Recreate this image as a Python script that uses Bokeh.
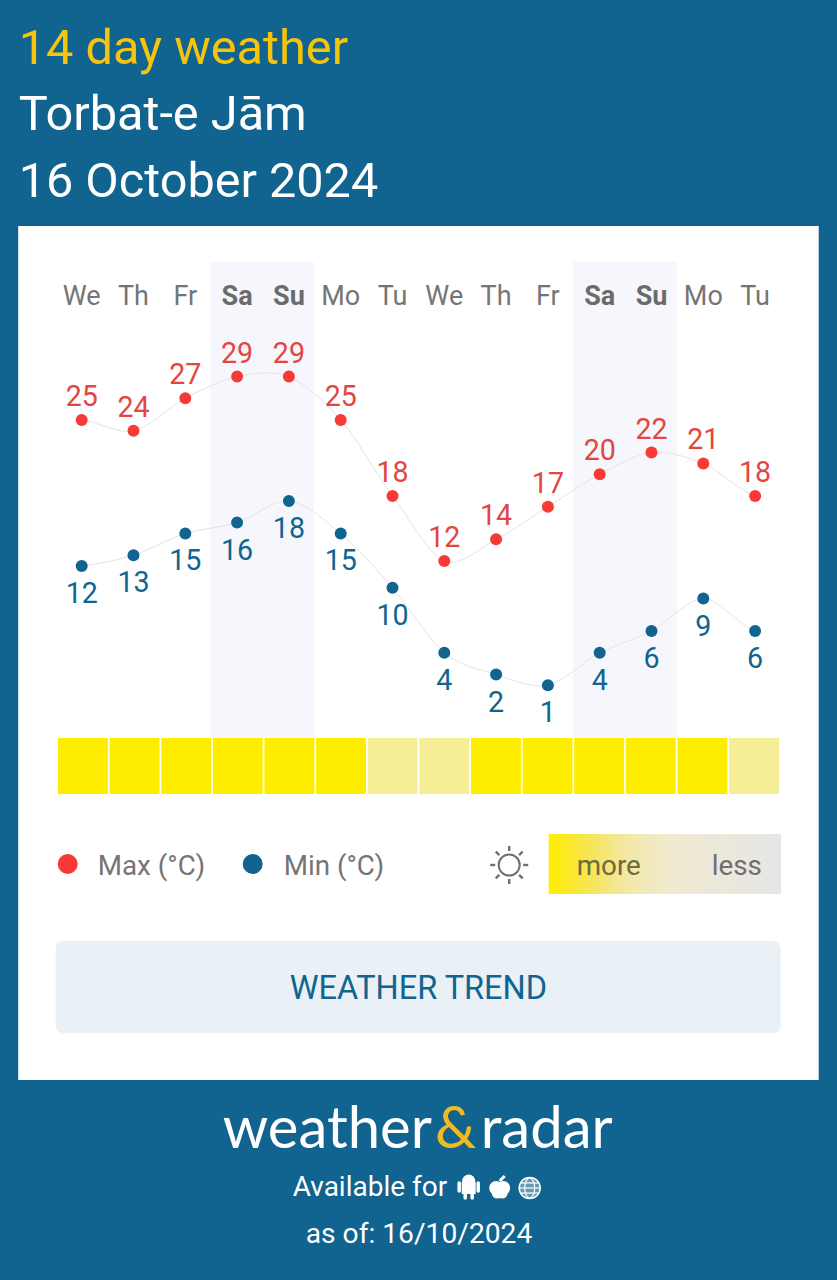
from math import cos, sin, pi
from bokeh.core.properties import value
from bokeh.embed import file_html
from bokeh.models import Range1d
from bokeh.plotting import figure
from bokeh.resources import INLINE

days = ["We", "Th", "Fr", "Sa", "Su", "Mo", "Tu", "We", "Th", "Fr", "Sa", "Su", "Mo", "Tu"]
max_temp = [25, 24, 27, 29, 29, 25, 18, 12, 14, 17, 20, 22, 21, 18]
min_temp = [12, 13, 15, 16, 18, 15, 10, 4, 2, 1, 4, 6, 9, 6]
sunny = [1, 1, 1, 1, 1, 1, 0, 0, 1, 1, 1, 1, 1, 0]
weekend_groups = [(3, 4), (10, 11)]

BLUE = "#10648f"
RED = "#f73a36"
RED_TEXT = "#e5453f"
GREY = "#757575"
YELLOW = "#ffed00"
PALE = "#f5ee96"
FONT = value("Roboto")

# bokeh's page template has no body margin, the frame covers the whole picture
W, H = 837, 1280
DAY_PX = 51.8
X0_PX = 82.0
DEG_PX = 10.85
SHIFT_X = 0.8  # the svg lands a bit right/low of the nominal pixel
SHIFT_Y = 0.5


def day_px(i):
    return X0_PX + DAY_PX * i


p = figure(width=W, height=H, output_backend="svg", toolbar_location=None,
           x_range=Range1d((SHIFT_X - X0_PX) / DAY_PX, (W + SHIFT_X - X0_PX) / DAY_PX),
           y_range=Range1d(25 + (420 - H - SHIFT_Y) / DEG_PX, 25 + (420 - SHIFT_Y) / DEG_PX),
           x_axis_location=None, y_axis_location=None, min_border=0,
           background_fill_color=BLUE, border_fill_color=BLUE, outline_line_color=None)
p.grid.visible = False
p.extra_y_ranges["min"] = Range1d(12 + (566 - H - SHIFT_Y) / DEG_PX, 12 + (566 - SHIFT_Y) / DEG_PX)
# layout pieces are placed in the picture's own pixels
p.extra_x_ranges["px"] = Range1d(SHIFT_X, W + SHIFT_X)
p.extra_y_ranges["py"] = Range1d(H + SHIFT_Y, SHIFT_Y)
PX = dict(x_range_name="px", y_range_name="py")


def label(x, base, txt, size, color, align="left", style="normal", font=FONT):
    # base is where the text baseline should sit; the svg text centres on y
    p.text([x], [base - 0.37 * size], text=[txt], text_font=font, text_font_size=f"{size}px", text_color=color,
           text_align=align, text_baseline="middle", text_font_style=style, **PX)


def smooth(values, y_range_name="default"):
    # cardinal spline through the points, same look as the original curve
    idx = list(range(len(values)))
    tan = [(values[min(i + 1, 13)] - values[max(i - 1, 0)]) / 2 for i in idx]
    p.bezier(x0=idx[:-1], y0=values[:-1], x1=idx[1:], y1=values[1:],
             cx0=[i + 0.3 for i in idx[:-1]], cy0=[v + t * 0.3 for v, t in zip(values[:-1], tan[:-1])],
             cx1=[i - 0.3 for i in idx[1:]], cy1=[v - t * 0.3 for v, t in zip(values[1:], tan[1:])],
             line_color="#e4e4e4", line_width=1, y_range_name=y_range_name)


# header
label(19, 66, "14 day weather", 48.7, "#f6c40c")
label(19, 132, "Torbat-e Jām", 48.7, "#ffffff")
label(19, 198, "16 October 2024", 48.6, "#ffffff")

# card
p.quad(left=[18.5], right=[819], top=[226], bottom=[1080], fill_color="#ffffff", line_color=None, **PX)

# weekend bands
for a, b in weekend_groups:
    p.quad(left=[day_px(a) - 26.9], right=[day_px(b) + 25.2], top=[262], bottom=[738],
           fill_color="#f5f7fc", line_color=None, **PX)

# day names
for i, d in enumerate(days):
    weekend = any(i in g for g in weekend_groups)
    label(day_px(i), 306, d, 27, "#6b6b6b" if weekend else GREY, "center", "bold" if weekend else "normal")

# curves, dots, values
xs = list(range(len(days)))
smooth(max_temp)
smooth(min_temp, "min")
p.scatter(xs, max_temp, size=12, color=RED, line_color=None)
p.scatter(xs, min_temp, size=12, color=BLUE, line_color=None, y_range_name="min")
p.text(xs, max_temp, text=[str(v) for v in max_temp], text_font=FONT, text_font_size="28.6px",
       text_color=RED_TEXT, text_align="center", text_baseline="middle", y_offset=-24.5)
p.text(xs, min_temp, text=[str(v) for v in min_temp], text_font=FONT, text_font_size="28.6px",
       text_color=BLUE, text_align="center", text_baseline="middle", y_offset=26.5, y_range_name="min")

# sunshine strip
cell = (780.2 - 57.5) / len(sunny)
p.quad(left=[57.5 + cell * i + 0.8 for i in xs], right=[57.5 + cell * (i + 1) - 0.9 for i in xs],
       top=[738] * 14, bottom=[794] * 14, fill_color=[YELLOW if s else PALE for s in sunny],
       line_color=None, **PX)

# legend
p.scatter([68], [864], size=20, color=RED, line_color=None, **PX)
label(98, 876, "Max (°C)", 27.8, GREY)
p.scatter([253], [864], size=20, color=BLUE, line_color=None, **PX)
label(284, 876, "Min (°C)", 27.8, GREY)

# sun icon
p.scatter([509.5], [865], size=21, fill_color=None, line_color="#6f6f6f", line_width=2, **PX)
angles = [k * pi / 4 for k in range(8)]
p.segment(x0=[509.5 + 14 * cos(a) for a in angles], y0=[865 + 14 * sin(a) for a in angles],
          x1=[509.5 + 19 * cos(a) for a in angles], y1=[865 + 19 * sin(a) for a in angles],
          line_color="#6f6f6f", line_width=2.4, **PX)

# more/less gradient
stops = [(0.0, (255, 237, 0)), (0.1, (250, 232, 50)), (0.2, (245, 228, 100)), (0.33, (243, 232, 165)),
         (0.5, (240, 234, 205)), (0.72, (236, 232, 218)), (1.0, (230, 230, 230))]


def grad(t):
    for (t0, c0), (t1, c1) in zip(stops, stops[1:]):
        if t <= t1:
            f = (t - t0) / (t1 - t0)
            return "#%02x%02x%02x" % tuple(round(a + (b - a) * f) for a, b in zip(c0, c1))
    return "#e6e6e6"


n = 116
p.quad(left=[549 + 2 * k for k in range(n)], right=[549 + 2 * k + 2.4 for k in range(n)],
       top=[834] * n, bottom=[894] * n, fill_color=[grad(k / (n - 1)) for k in range(n)],
       line_color=None, **PX)
label(577, 876, "more", 27.8, "#6e6a3a")
label(712, 876, "less", 27.8, "#6f6f6f")

# button
p.quad(left=[56], right=[781], top=[941], bottom=[1033], fill_color="#e9f0f6", line_color=None,
       border_radius=8, **PX)
label(419, 1000.5, "WEATHER TREND", 32.5, BLUE, "center")

# logo
label(223, 1147, "weather", 58, "#ffffff", font=value("Lato"))
label(456, 1147, "&", 58, "#efbb20", "center", font=value("Lato"))
label(481, 1147, "radar", 58, "#ffffff", font=value("Lato"))

# footer
label(293, 1197, "Available for", 28, "#ffffff")
label(306, 1243.5, "as of: 16/10/2024", 28.2, "#ffffff")

# android
p.quad(left=[462], right=[476], top=[1182], bottom=[1194], fill_color="#ffffff", line_color=None, **PX)
p.scatter([469], [1181], size=13, color="#ffffff", line_color=None, **PX)
p.segment(x0=[459.5, 478.5, 465.5, 472.5], y0=[1183, 1183, 1193, 1193], x1=[459.5, 478.5, 465.5, 472.5],
          y1=[1191, 1191, 1198, 1198], line_color="#ffffff", line_width=3.5, line_cap="round", **PX)
# apple
p.scatter([496.5, 503.5, 497.5, 502.5], [1188, 1188, 1193, 1193], size=[14, 14, 11, 11], color="#ffffff",
          line_color=None, **PX)
p.segment(x0=[500], y0=[1181], x1=[505], y1=[1176], line_color="#ffffff", line_width=3, **PX)
# globe
p.scatter([530], [1188], size=21, fill_color="#ffffff", fill_alpha=0.35, line_color="#ffffff", line_width=1.5, **PX)
p.ellipse([530], [1188], width=10, height=20, fill_color=None, line_color="#ffffff", line_width=1.2, **PX)
p.segment(x0=[520, 521, 521], y0=[1188, 1183, 1193], x1=[540, 539, 539], y1=[1188, 1183, 1193],
          line_color="#ffffff", line_width=1.2, **PX)

page_style = f"<style>html,body{{margin:0;background:{BLUE};}}</style></head>"
open("out.html", "w").write(file_html(p, INLINE).replace("</head>", page_style, 1))
